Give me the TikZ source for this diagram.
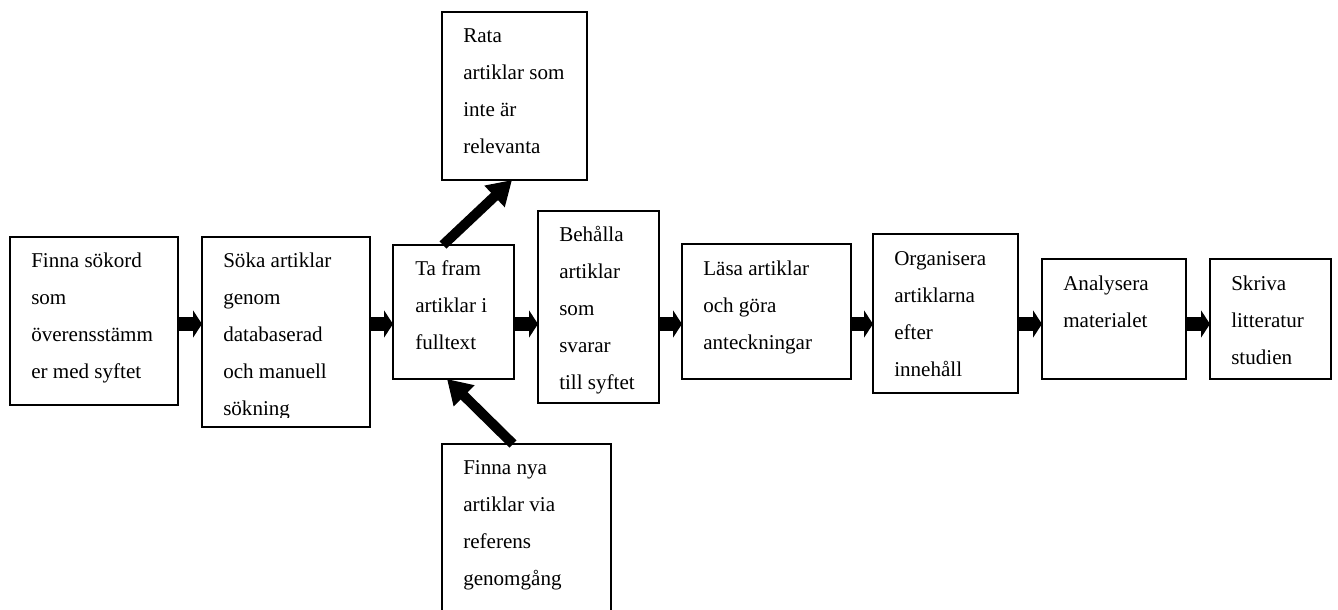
\documentclass[tikz,border=0pt]{standalone}
\usepackage{fontspec}
\setmainfont{Liberation Serif}
\usetikzlibrary{arrows.meta,fit}
\begin{document}
\begin{tikzpicture}[x=0.75pt,y=-0.75pt,
  box/.style={draw,line width=1.5pt,inner sep=0pt,outer sep=0pt},
  txt/.style={anchor=base west,align=left,inner sep=0pt,font=\fontsize{15.8}{27.75}\selectfont},
  harrow/.style={line width=10.5pt,-{Triangle[length=6.75pt,width=20.25pt]}},
  darrow/.style={line width=7.5pt,-{Triangle[length=18pt,width=21pt]}}]
\useasboundingbox (0,0) rectangle (1338,610);
\clip (0,0) rectangle (1338,610);
\coordinate (ay) at (0,324);
% boxes
\node[box,fit={(10,237)(178,405)}] (b1) {};
\node[box,fit={(202,237)(370,427)}] (b2) {};
\node[box,fit={(393,245)(514,379)}] (b3) {};
\node[box,fit={(538,211)(659,403)}] (b4) {};
\node[box,fit={(442,12)(587,180)}] (rata) {};
\node[box,fit={(442,444)(611,630)}] (fnya) {};
\node[box,fit={(682,244)(851,379)}] (b5) {};
\node[box,fit={(873,234)(1018,393)}] (b6) {};
\node[box,fit={(1042,259)(1186,379)}] (b7) {};
\node[box,fit={(1210,259)(1331,379)}] (b8) {};
% texts (anchored at the baseline of the last line)
\node[txt] (t1) at (31,378) {Finna sökord\\som\\överensstämm\\er med syftet};
\begin{scope}
\clip (203,238) rectangle (369,417);
\node[txt] (t2) at (223,415) {Söka artiklar\\genom\\databaserad\\och manuell\\sökning};
\end{scope}
\node[txt] (t3) at (415,349) {Ta fram\\artiklar i\\fulltext};
\node[txt] (t4) at (559,389) {Behålla\\artiklar\\som\\svarar\\till syftet};
\node[txt] (tr) at (463,153) {Rata\\artiklar som\\inte är\\relevanta};
\node[txt] (tf) at (463,585) {Finna nya\\artiklar via\\referens\\genomgång};
\node[txt] (t5) at (703,349) {Läsa artiklar\\och göra\\anteckningar};
\node[txt] (t6) at (894,376) {Organisera\\artiklarna\\efter\\innehåll};
\node[txt] (t7) at (1063,327) {Analysera\\materialet};
\node[txt] (t8) at (1231,364) {Skriva\\litteratur\\studien};
% arrows
\draw[harrow] (b1.east |- ay) -- (b2.west |- ay);
\draw[harrow] (b2.east |- ay) -- (b3.west |- ay);
\draw[harrow] (b3.east |- ay) -- (b4.west |- ay);
\draw[harrow] (b4.east |- ay) -- (b5.west |- ay);
\draw[harrow] (b5.east |- ay) -- (b6.west |- ay);
\draw[harrow] (b6.east |- ay) -- (b7.west |- ay);
\draw[harrow] (b7.east |- ay) -- (b8.west |- ay);
\draw[darrow] ([xshift=37.5pt]b3.north west) -- ([xshift=52.5pt]rata.south west);
\draw[darrow] ([xshift=53.25pt]fnya.north west) -- ([xshift=40.5pt]b3.south west);
\end{tikzpicture}
\end{document}
